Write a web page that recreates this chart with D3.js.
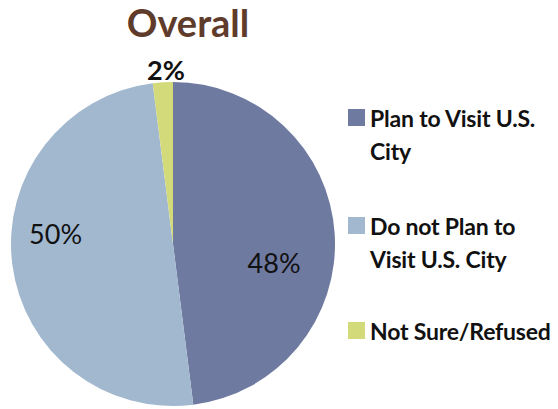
<!DOCTYPE html>
<html lang="en">
  <head>
    <meta charset="UTF-8" />
    <title>Overall</title>
    <script src="https://d3js.org/d3.v7.min.js"></script>
    <style>
      * { margin: 0; padding: 0; box-sizing: border-box; }
      body { background: #ffffff; width: 558px; height: 409px; overflow: hidden; }
      .title { font-family: "Lato", sans-serif; font-weight: 700; font-size: 38px; fill: #5f3b2b; }
      .pct { font-family: "Lato", sans-serif; font-size: 27px; fill: #111; }
      .legend-text { font-family: "Lato", sans-serif; font-weight: 700; font-size: 23px; letter-spacing: -0.2px; fill: #111; }
    </style>
  </head>
  <body>
    <div id="chart"></div>
    <script>
      const categories = [
        ["Plan to Visit U.S.", "City"],
        ["Do not Plan to", "Visit U.S. City"],
        ["Not Sure/Refused"],
      ];
      const values = [48, 50, 2];
      const labels = ["48%", "50%", "2%"];
      const colors = ["#6f7aa1", "#a1b8cf", "#d3da7a"];

      const width = 558,
        height = 409;
      const cx = 173,
        cy = 244,
        radius = 162;

      const svg = d3
        .select("#chart")
        .append("svg")
        .attr("width", width)
        .attr("height", height);

      svg
        .append("text")
        .attr("class", "title")
        .attr("x", 188)
        .attr("y", 37)
        .attr("text-anchor", "middle")
        .text("Overall");

      const pie = d3.pie().sort(null).value((d) => d);
      const arcs = pie(values);
      const arc = d3.arc().innerRadius(0).outerRadius(radius);

      const g = svg.append("g").attr("transform", `translate(${cx},${cy})`);

      g.selectAll("path")
        .data(arcs)
        .enter()
        .append("path")
        .attr("d", arc)
        .attr("fill", (d, i) => colors[i]);

      // label placement: Excel puts them a bit off the centroid
      const labelArc = d3.arc().innerRadius(0).outerRadius(radius * 1.25);
      const labelShift = [
        [0, 26],
        [-17, -22],
        [4, 2],
      ];
      const outerArc = d3.arc().innerRadius(radius + 14).outerRadius(radius + 14);

      g.selectAll(".pct")
        .data(arcs)
        .enter()
        .append("text")
        .attr("class", "pct")
        .attr("text-anchor", "middle")
        .style("font-weight", (d, i) => (i === 2 ? 700 : 400))
        .attr("transform", (d, i) => {
          const c = i === 2 ? outerArc.centroid(d) : labelArc.centroid(d);
          return `translate(${c[0] + labelShift[i][0]},${c[1] + labelShift[i][1]})`;
        })
        .attr("dy", "0.35em")
        .text((d, i) => labels[i]);

      // legend
      const legend = svg
        .append("g")
        .selectAll("g")
        .data(categories)
        .enter()
        .append("g")
        .attr("transform", (d, i) => `translate(348,${[109, 217, 322][i]})`);

      legend
        .append("rect")
        .attr("width", 17)
        .attr("height", 17)
        .attr("fill", (d, i) => colors[i]);

      legend
        .append("text")
        .attr("class", "legend-text")
        .attr("x", 22)
        .attr("y", 18)
        .selectAll("tspan")
        .data((d) => d)
        .enter()
        .append("tspan")
        .attr("x", 22)
        .attr("dy", (d, i) => (i === 0 ? 0 : 33))
        .text((d) => d);
    </script>
  </body>
</html>
